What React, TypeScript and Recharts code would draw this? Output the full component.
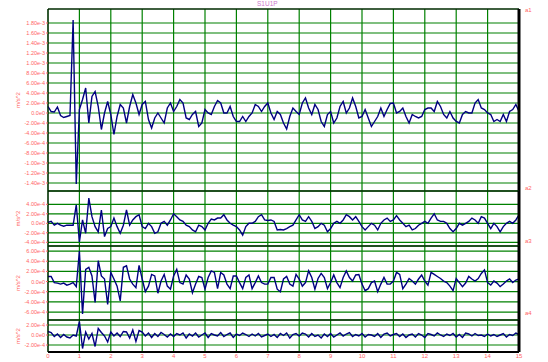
import { LineChart, Line, XAxis, YAxis, CartesianGrid, ReferenceLine } from 'recharts';

// sample interval of the recording, seconds
const sampleStep = 0.1;
const xTicks = [0, 1, 2, 3, 4, 5, 6, 7, 8, 9, 10, 11, 12, 13, 14, 15];

// channel values in units of 1e-4 m/s^2, one every 0.1 s from 0 to 15 s
const a1Values = [
  1.3, 0.3, 0.2, 1.2, -0.5, -0.9, -0.7, -0.5, 18.6, -14.2,
  0.7, 2.7, 5.0, -2.0, 3.3, 4.3, 1.3, -3.3, 0, 2.3,
  -0.3, -4.3, -0.7, 1.7, 1.0, -2.0, 1.3, 3.7, 2.0, -0.3,
  1.7, 2.3, -1.3, -3.0, -1.0, 0, -1.0, -2.0, 1.0, 2.0,
  0.3, 1.3, 2.7, 2.0, -1.0, -1.3, -0.3, 0.3, -2.7, -2.0,
  0.7, 0, -0.3, 1.3, 2.5, 2.0, 0, 0, 1.3, -0.7,
  -1.7, -1.7, -0.7, -1.7, -0.7, 0, 1.7, 1.3, 0.3, 1.3,
  2.0, 0, -1.3, 0.3, -0.3, -2.0, -3.2, -0.7, 1.0, 0.3,
  -0.3, 2.0, 3.0, 1.0, -0.3, 1.7, 0.7, -1.7, -2.7, -0.3,
  0.3, -2.0, -1.0, 1.3, 2.3, 0, 1.0, 3.0, 1.3, -1.0,
  -0.7, 0.7, -1.0, -2.7, -1.7, -0.7, 1.0, -0.7, 0.7, 1.9,
  2.0, 0, 0.3, 1.0, -0.7, -2.0, -0.3, -0.7, -1.0, -0.7,
  0.7, 1.0, 1.0, 0.3, 2.3, 1.3, -0.3, -1.0, 0.3, -1.0,
  -1.7, -2.0, -0.3, 0.3, 0, 0, 2.0, 2.7, 1.0, 0.7,
  0, -0.3, -1.7, -1.3, -1.7, -0.3, -1.7, 0.3, 0.7, 1.7,
  0.3,
];

const a2Values = [
  0.2, 0.4, -0.4, 0, -0.4, -0.6, -0.4, -0.4, -0.4, 3.9,
  -3.9, 0.7, -2.1, 5.3, 1.4, -0.7, -1.8, 2.8, -2.8, -1.1,
  -0.7, 1.1, -0.7, -2.1, -0.4, 2.8, -0.4, 0.7, 1.4, 1.8,
  -0.7, -1.1, 0, -0.7, -2.1, -1.8, 0, 0.4, -0.4, 0.7,
  2.0, 1.4, 0.7, 0.4, -0.4, -0.7, -1.4, -1.8, -0.4, -0.7,
  -1.4, 0, 0.9, 0.7, 1.1, 1.1, 1.8, 0.7, 0, -0.4,
  -0.7, -1.4, -2.5, -0.7, 0, 0, 0.4, 1.4, 1.8, 0.7,
  0.6, 0.7, 0.4, -1.4, -1.3, -1.4, -1.1, -0.7, -0.4, 0.7,
  1.8, 0.7, 0.4, 1.4, 0.4, -1.1, -0.7, 0, -0.4, -1.8,
  -1.1, 0, 0.4, 0, 0.7, 1.8, 1.4, 0.7, 1.4, 0.4,
  -0.7, -1.4, -0.7, 0, -0.4, -1.4, 0, 0.7, 1.1, 0.4,
  0.7, 1.6, 0.7, 0, -0.7, -0.4, -1.4, -1.1, -0.4, 0,
  0.4, 0, 1.1, 2.0, 0.7, 0.4, 0.4, 0, -1.1, -1.8,
  -1.1, 0, -0.4, 0, 0.4, 1.1, 0.7, 0, 1.4, 1.1,
  0, -1.1, 0, -0.7, -1.8, -0.7, 0, 0.4, 0, 0.7,
  1.8,
];

const a3Values = [
  1.0, 1.0, -0.2, -0.3, -0.5, -0.3, -0.7, -0.5, -0.2, -1.0,
  6.0, -6.4, 2.4, 2.8, 1.1, -4.1, 4.1, 1.1, 0.5, -4.5,
  1.8, 0.5, -0.9, -3.8, 2.8, 3.1, 0.5, -0.5, -1.2, 3.2,
  0.5, -2.0, -0.9, 1.4, 1.1, -2.3, 0.1, 1.4, -0.9, -1.5,
  1.1, 2.4, -0.2, -0.5, 1.3, 0.5, -2.2, -0.5, 1.0, 0.8,
  -1.5, 0.8, 2.1, 1.8, -1.4, 1.8, 1.3, -0.5, -1.4, 1.1,
  1.1, -0.2, -1.4, 0.8, 1.3, -1.4, -0.2, 1.1, -0.2, -0.5,
  -0.5, 0.8, 0.8, -1.5, -2.0, 0.5, 1.0, -0.5, -0.9, 1.4,
  0.5, -0.9, -0.2, 2.1, 0.8, -1.5, 0.6, 1.6, 0.8, -1.4,
  -0.2, 1.3, -0.2, -1.2, 0.8, 2.1, 0.8, 0.1, 1.3, 1.4,
  -0.5, -1.8, -1.4, -0.2, 0.1, -2.0, -0.5, 0.8, -0.5, -0.5,
  0.1, 1.8, 1.4, -1.4, -0.5, 0.6, 0.1, -0.5, 0.5, 1.3,
  0.1, -0.7, 1.8, 1.4, 1.0, 0.6, 0.1, -0.2, -0.9, -1.8,
  0.6, -0.2, -1.0, -0.3, 1.0, 0.5, 0.1, 0.6, 1.6, 2.3,
  -0.2, -0.7, 0.1, -0.3, -1.0, -0.5, 0.1, 0.5, -0.2, 0.3,
  0.5,
];

const a4Values = [
  0.7, 0.5, -0.3, 0.2, -0.5, 0.1, -0.4, -0.6, 0.0, -0.2,
  2.7, -2.7, 0.6, -0.8, 0.3, -2.3, 1.3, 0.5, -0.2, -1.4,
  0.6, -0.2, 0.4, -0.3, 0.7, 0.6, -0.6, 1.0, -1.3, 0.9,
  0.6, -0.2, 0.4, -0.5, 0.3, -0.3, 0.5, 0.1, -0.4, 0.2,
  -0.3, 0.3, 0.0, 0.4, -0.6, 0.2, -0.2, 0.4, -0.4, 0.0,
  0.4, -0.5, 0.3, 0.0, -0.2, 0.5, -0.3, 0.1, 0.4, -0.5,
  0.2, -0.1, 0.4, 0.1, -0.3, 0.2, -0.2, 0.3, -0.4, -0.1,
  0.2, -0.3, 0.1, -0.5, 0.3, -0.1, 0.4, -0.6, 0.1, 0.3,
  -0.2, 0.4, 0.2, -0.4, 0.3, -0.3, 0.0, -0.6, 0.2, -0.3,
  0.3, -0.4, 0.0, 0.4, -0.2, 0.2, 0.5, -0.3, 0.1, -0.2,
  0.3, -0.4, 0.1, 0.0, -0.3, 0.3, -0.5, 0.2, 0.4, -0.2,
  0.1, 0.3, -0.3, 0.2, -0.5, 0.0, 0.2, -0.4, 0.3, 0.0,
  -0.5, 0.3, 0.1, -0.2, 0.4, 0.0, -0.3, 0.2, -0.1, 0.3,
  -0.4, 0.1, -0.5, 0.4, 0.2, -0.2, 0.3, -0.1, 0.0, -0.3,
  0.2, -0.2, 0.1, -0.3, 0.0, 0.3, -0.4, 0.1, -0.1, 0.4,
  0.1,
];

const a1Ticks = [-1.4e-3, -1.2e-3, -1.0e-3, -8e-4, -6e-4, -4e-4, -2e-4, 0, 2e-4, 4e-4, 6e-4, 8e-4, 1.0e-3, 1.2e-3, 1.4e-3, 1.6e-3, 1.8e-3];
const a2Ticks = [-4e-4, -2e-4, 0, 2e-4, 4e-4];
const a3Ticks = [-6e-4, -4e-4, -2e-4, 0, 2e-4, 4e-4, 6e-4];
const a4Ticks = [-2e-4, 0, 2e-4];

const a1Domain = [-1.56e-3, 2.08e-3];
const a2Domain = [-4.78e-4, 6.8e-4];
const a3Domain = [-7.57e-4, 7.0e-4];
const a4Domain = [-3.4e-4, 3.0e-4];

const PINK = '#ff6464';
const GRID = '#008000';
const TRACE = '#000080';

const rows = a1Values.map((v, i) => ({
  t: i * sampleStep,
  a1: v * 1e-4,
  a2: a2Values[i] * 1e-4,
  a3: a3Values[i] * 1e-4,
  a4: a4Values[i] * 1e-4,
}));

const panels = [
  { key: 'a1', ticks: a1Ticks, domain: a1Domain, top: 9, height: 182, tagY: 6 },
  { key: 'a2', ticks: a2Ticks, domain: a2Domain, top: 191, height: 55, tagY: 184 },
  { key: 'a3', ticks: a3Ticks, domain: a3Domain, top: 246, height: 74, tagY: 237 },
  { key: 'a4', ticks: a4Ticks, domain: a4Domain, top: 320, height: 32, tagY: 309 },
];

const fmt = (v: number) => (v === 0 ? '0.0e0' : v.toExponential(2).replace('e+', 'e'));

const UnitLabel = (props: any) => {
  const vb = props.viewBox;
  const cx = vb.x + 18;
  const cy = vb.y + vb.height / 2;
  return (
    <text x={cx} y={cy} transform={`rotate(-90 ${cx} ${cy})`} textAnchor="middle" dominantBaseline="central" fontSize={6} fill={PINK}>
      m/s^2
    </text>
  );
};

export default function App() {
  return (
    <div style={{ position: 'absolute', left: 0, top: 0, width: 548, height: 362, background: '#fff', fontFamily: 'Liberation Sans, Arial, sans-serif' }}>
      <div style={{ position: 'absolute', left: 257, top: 0, fontSize: 6.5, color: '#cc77cc', lineHeight: '8px' }}>S1U1P</div>
      {panels.map((p, idx) => {
        const last = idx === panels.length - 1;
        return (
          <div key={p.key}>
            <div style={{ position: 'absolute', left: 0, top: p.top - 1 }}>
              <LineChart width={548} height={p.height + 1 + (last ? 10 : 1)} data={rows} margin={{ top: 1, right: 29, bottom: last ? 0 : 1, left: 0 }}>
                <CartesianGrid stroke={GRID} strokeWidth={1.2} />
                <XAxis
                  dataKey="t"
                  type="number"
                  domain={[0, 15]}
                  ticks={xTicks}
                  interval={0}
                  hide={!last}
                  height={10}
                  tickLine={false}
                  tickSize={0}
                  tickMargin={2}
                  axisLine={{ stroke: '#000', strokeWidth: 2 }}
                  tick={{ fontSize: 6, fill: PINK }}
                />
                <YAxis
                  type="number"
                  domain={p.domain}
                  ticks={p.ticks}
                  interval={0}
                  allowDataOverflow
                  width={48}
                  tickFormatter={fmt}
                  tick={{ fontSize: 5.5, fill: PINK }}
                  tickSize={2}
                  tickMargin={1}
                  tickLine={{ stroke: PINK }}
                  axisLine={{ stroke: '#000' }}
                  label={<UnitLabel />}
                />
                <Line dataKey={p.key} type="linear" stroke={TRACE} strokeWidth={1.4} dot={false} isAnimationActive={false} />
                <ReferenceLine y={p.domain[1]} stroke="#000" strokeWidth={1.2} />
                <ReferenceLine x={15} stroke="#000" strokeWidth={3} />
              </LineChart>
            </div>
            <div style={{ position: 'absolute', left: 525, top: p.tagY, fontSize: 6, color: PINK, lineHeight: '8px' }}>{p.key}</div>
          </div>
        );
      })}
    </div>
  );
}
